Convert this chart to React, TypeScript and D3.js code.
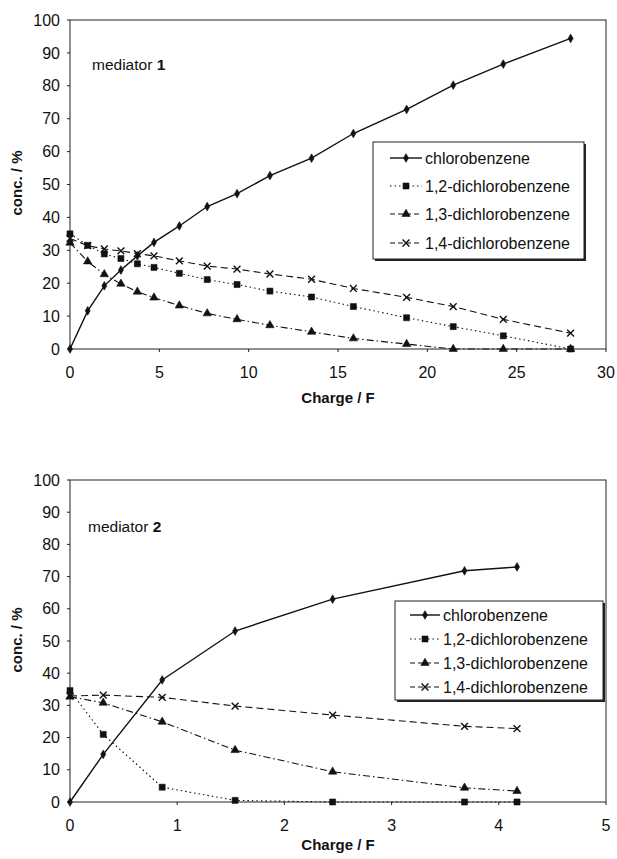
import React from 'react';
import * as d3 from 'd3';

// mediator 1 panel
const m1Charge = [0, 0.99, 1.92, 2.85, 3.77, 4.7, 6.12, 7.68, 9.35, 11.19, 13.52, 15.86, 18.84, 21.45, 24.25, 28.02];
const m1Chloro = [0, 11.6, 19.2, 24, 28.3, 32.4, 37.4, 43.3, 47.2, 52.7, 58, 65.5, 72.8, 80.2, 86.6, 94.4];
const m1Di12 = [35, 31.5, 28.9, 27.5, 25.9, 24.8, 23, 21.1, 19.6, 17.6, 15.8, 12.9, 9.5, 6.8, 4, 0];
const m1Di13 = [32.3, 26.6, 22.7, 19.8, 17.4, 15.6, 13.2, 10.8, 9, 7.2, 5.2, 3.2, 1.5, 0, 0, 0];
const m1Di14 = [33.6, 31.4, 30.4, 29.8, 29, 28.3, 26.8, 25.2, 24.3, 22.8, 21.2, 18.4, 15.7, 12.9, 9, 4.8];
const m1XTicks = [0, 5, 10, 15, 20, 25, 30];

// mediator 2 panel
const m2Charge = [0, 0.31, 0.86, 1.54, 2.45, 3.68, 4.17];
const m2Chloro = [0, 14.8, 37.9, 53.1, 63, 71.8, 73];
const m2Di12 = [34.6, 21, 4.6, 0.5, 0, 0, 0];
const m2Di13 = [32.7, 30.8, 24.9, 16.1, 9.4, 4.4, 3.4];
const m2Di14 = [32.9, 33.2, 32.5, 29.8, 27, 23.5, 22.8];
const m2XTicks = [0, 1, 2, 3, 4, 5];

const yTicks = [0, 10, 20, 30, 40, 50, 60, 70, 80, 90, 100];
const seriesNames = ['chlorobenzene', '1,2-dichlorobenzene', '1,3-dichlorobenzene', '1,4-dichlorobenzene'];

const FONT = '"Liberation Sans", Arial, sans-serif';

// line style + marker per series
const styles = [
  { dash: undefined, width: 1.4, symbol: d3.symbolDiamond, size: 22, stroke: false },
  { dash: '1.5,3', width: 1.1, symbol: d3.symbolSquare, size: 36, stroke: false },
  { dash: '7,3,1.5,3', width: 1.1, symbol: d3.symbolTriangle, size: 30, stroke: false },
  { dash: '7,4', width: 1.1, symbol: d3.symbolX, size: 32, stroke: true },
];

function Marker({ i, x, y }: { i: number; x: number; y: number }) {
  const s = styles[i];
  const path = d3.symbol().type(s.symbol).size(s.size)() as string;
  return s.stroke ? (
    <path d={path} transform={`translate(${x},${y})`} fill="none" stroke="#111" strokeWidth={1.4} />
  ) : (
    <path d={path} transform={`translate(${x},${y})`} fill="#111" stroke="#111" strokeWidth={0.6} />
  );
}

type PanelProps = {
  top: number;
  bottom: number;
  xMax: number;
  xTicks: number[];
  charge: number[];
  series: number[][];
  num: string;
  labelPos: [number, number];
  legend: { x0: number; y0: number; x1: number; y1: number; rows: number[]; lx0: number; lx1: number; tx: number };
  titleY: number;
  yTitleY: number;
};

function Panel(p: PanelProps) {
  const left = 70, right = 606;
  const x = d3.scaleLinear().domain([0, p.xMax]).range([left, right]);
  const y = d3.scaleLinear().domain([0, 100]).range([p.bottom, p.top]);
  const line = d3.line<number>().x((_, i) => x(p.charge[i])).y(d => y(d));
  const L = p.legend;
  return (
    <g>
      <rect x={left} y={p.top} width={right - left} height={p.bottom - p.top} fill="none" stroke="#222" strokeWidth={1} />
      {yTicks.map(t => (
        <g key={'y' + t}>
          <line x1={left - 3} x2={left} y1={y(t)} y2={y(t)} stroke="#222" />
          <text x={60} y={y(t)} dy="0.35em" textAnchor="end" fontSize={16} fontFamily={FONT} fill="#111">{t}</text>
        </g>
      ))}
      {p.xTicks.map(t => (
        <g key={'x' + t}>
          <line x1={x(t)} x2={x(t)} y1={p.bottom} y2={p.bottom + 3} stroke="#222" />
          <text x={x(t)} y={p.bottom + 23} dy="0.35em" textAnchor="middle" fontSize={16} fontFamily={FONT} fill="#111">{t}</text>
        </g>
      ))}
      <text x={338} y={p.titleY} textAnchor="middle" fontSize={15} fontWeight="bold" fontFamily={FONT} fill="#111">Charge / F</text>
      <text transform={`translate(22,${p.yTitleY}) rotate(-90)`} textAnchor="middle" fontSize={15} fontWeight="bold" fontFamily={FONT} fill="#111">conc. / %</text>
      <text x={p.labelPos[0]} y={p.labelPos[1]} fontSize={15.5} fontFamily={FONT} fill="#111">
        mediator <tspan fontWeight="bold">{p.num}</tspan>
      </text>
      {p.series.map((vals, i) => (
        <path key={'l' + i} d={line(vals) as string} fill="none" stroke="#111" strokeWidth={styles[i].width}
          strokeDasharray={styles[i].dash} />
      ))}
      {p.series.map((vals, i) =>
        vals.map((v, j) => <Marker key={`m${i}-${j}`} i={i} x={x(p.charge[j])} y={y(v)} />)
      )}
      {/* legend with drop shadow */}
      <rect x={L.x0 + 2} y={L.y0 + 2} width={L.x1 - L.x0} height={L.y1 - L.y0} fill="#222" />
      <rect x={L.x0} y={L.y0} width={L.x1 - L.x0} height={L.y1 - L.y0} fill="#fff" stroke="#222" strokeWidth={1} />
      {seriesNames.map((name, i) => (
        <g key={'lg' + i}>
          <line x1={L.lx0} x2={L.lx1} y1={L.rows[i]} y2={L.rows[i]} stroke="#111" strokeWidth={styles[i].width}
            strokeDasharray={i === 0 ? undefined : i === 1 ? '1.5,3' : '5,3'} />
          <Marker i={i} x={(L.lx0 + L.lx1) / 2} y={L.rows[i]} />
          <text x={L.tx} y={L.rows[i]} dy="0.35em" fontSize={16} fontFamily={FONT} fill="#111">{name}</text>
        </g>
      ))}
    </g>
  );
}

export default function App() {
  return (
    <svg width={617} height={859} style={{ position: 'absolute', left: 0, top: 0, background: '#fff' }}>
      <Panel top={20} bottom={349} xMax={30} xTicks={m1XTicks} charge={m1Charge}
        series={[m1Chloro, m1Di12, m1Di13, m1Di14]} num="1" labelPos={[92, 70]}
        legend={{ x0: 373, y0: 142, x1: 584, y1: 259, rows: [158, 186, 214, 243], lx0: 390, lx1: 422, tx: 425 }}
        titleY={403} yTitleY={183} />
      <Panel top={480} bottom={802} xMax={5} xTicks={m2XTicks} charge={m2Charge}
        series={[m2Chloro, m2Di12, m2Di13, m2Di14]} num="2" labelPos={[88, 532]}
        legend={{ x0: 395, y0: 601, x1: 603, y1: 700, rows: [615, 639, 663, 687], lx0: 410, lx1: 440, tx: 443 }}
        titleY={850} yTitleY={640} />
    </svg>
  );
}
